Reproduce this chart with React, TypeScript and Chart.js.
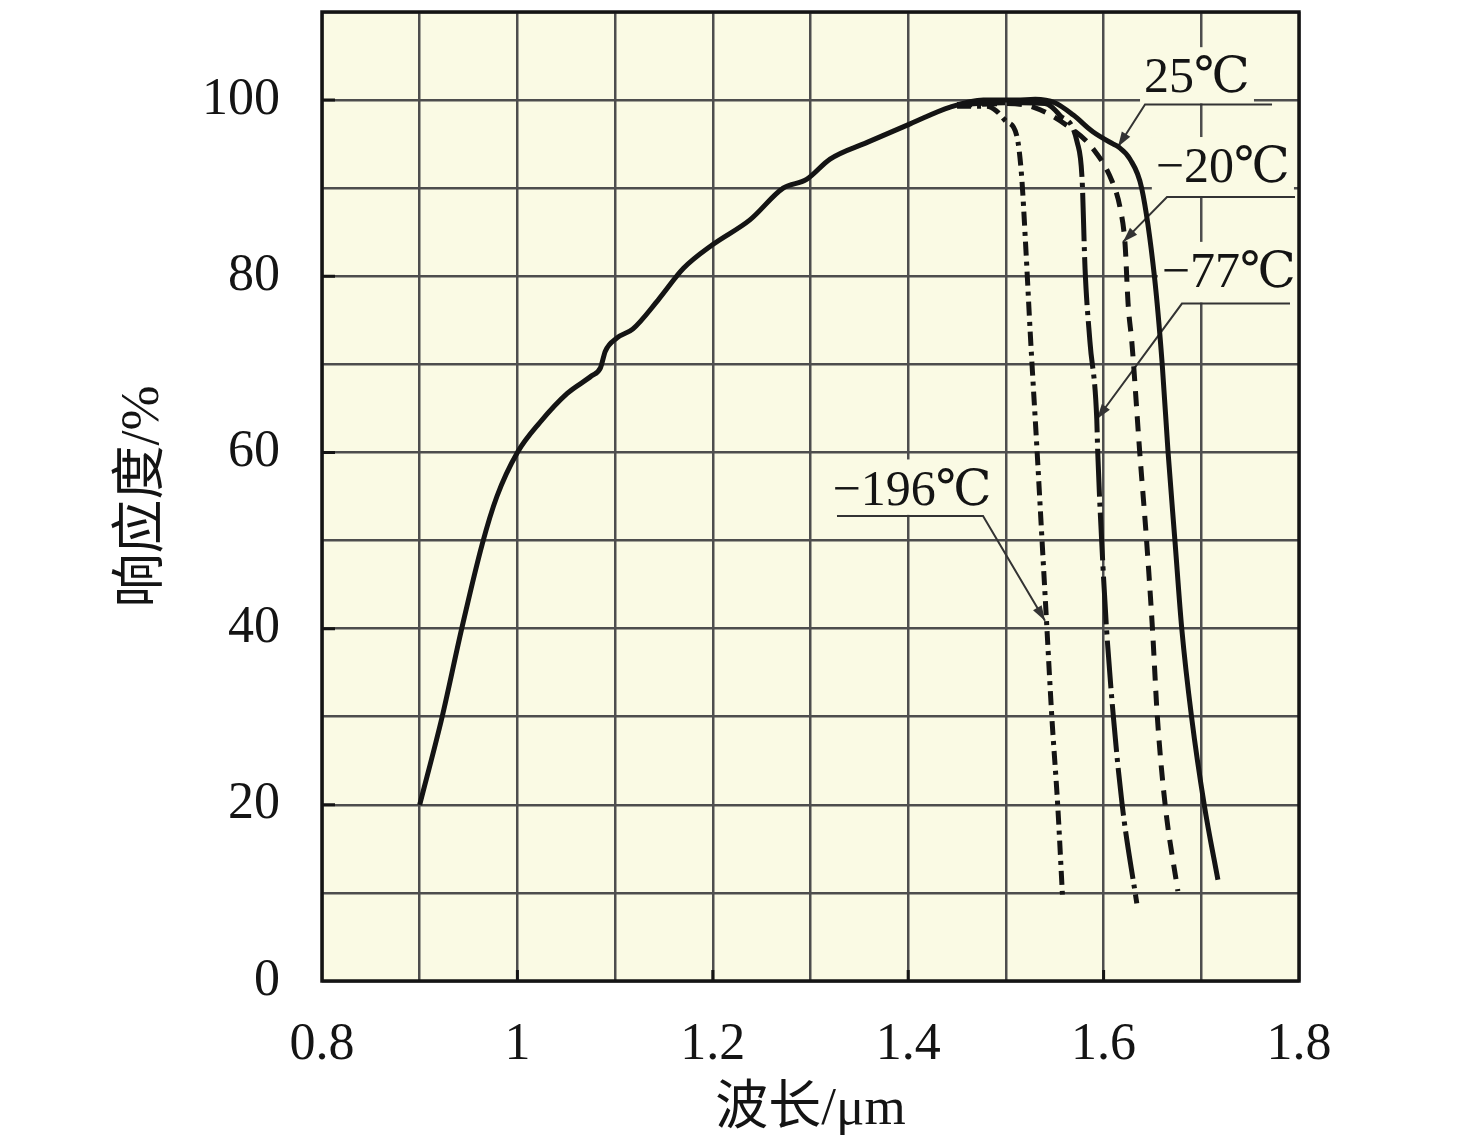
import React, { useEffect, useRef } from 'react';
import { Chart, registerables } from 'chart.js';

Chart.register(...registerables);

// ---- data (wavelength in µm, responsivity in %) ----
const wl25 = [0.9, 0.923, 0.943, 0.964, 0.979, 1.0, 1.023, 1.051, 1.076, 1.085, 1.09, 1.102, 1.118, 1.144, 1.17, 1.2, 1.238, 1.272, 1.296, 1.32, 1.358, 1.402, 1.443, 1.477, 1.511, 1.53, 1.55, 1.569, 1.589, 1.61, 1.615, 1.627, 1.639, 1.652, 1.66, 1.666, 1.673, 1.68, 1.69, 1.703, 1.717];
const resp25 = [20, 30, 40, 49.6, 55, 60, 63.4, 66.7, 68.7, 69.6, 71.5, 73, 74, 77.3, 80.9, 83.6, 86.4, 90, 91, 93.3, 95.2, 97.3, 99.2, 100, 100, 100.1, 99.7, 98.3, 96.4, 95, 94.7, 93.3, 90, 80, 70, 60, 50, 40, 30, 20, 11.5];

const wlM20 = [1.45, 1.5, 1.528, 1.564, 1.589, 1.609, 1.617, 1.622, 1.625, 1.629, 1.637, 1.644, 1.65, 1.655, 1.663, 1.676];
const respM20 = [99.4, 99.6, 99.2, 97, 94.5, 90.7, 87.7, 83.6, 77, 72.4, 60, 50, 40, 30, 20, 10.2];

const wlM77 = [1.45, 1.5, 1.54, 1.555, 1.573, 1.578, 1.581, 1.586, 1.593, 1.594, 1.598, 1.603, 1.61, 1.619, 1.634];
const respM77 = [99.5, 99.7, 99.6, 98.3, 95.2, 91, 80.9, 72.6, 63.8, 60, 50, 40, 30, 20, 8.8];

const wlM196 = [1.45, 1.48, 1.49, 1.5, 1.511, 1.516, 1.52, 1.525, 1.532, 1.537, 1.542, 1.547, 1.553, 1.558];
const respM196 = [99.3, 99.3, 98.8, 97.6, 96, 91.5, 84, 73.4, 60, 50, 40, 30, 20, 9.5];

// ---- axes ----
const xMin = 0.8;
const xMax = 1.8;
const xStep = 0.1;
const yMin = 0;
const yMax = 110;
const yStep = 10;
const xTitle = '波长/μm';
const yTitle = '响应度/%';

// ---- annotations (data units) ----
const annText = ['25℃', '−20℃', '−77℃', '−196℃'];
const annTextX = [1.6956, 1.7221, 1.7282, 1.4039];
const annTextY = [102.6, 92.4, 80.5, 55.8];
const annFarX = [1.7724, 1.7959, 1.7908, 1.3271];
const annElbowX = [1.6424, 1.6649, 1.6802, 1.4766];
const annLineY = [99.5, 89.0, 76.9, 52.8];
const annTipX = [1.6147, 1.6199, 1.5932, 1.54];
const annTipY = [94.7, 83.9, 63.8, 40.9];

const PLOT_BG = '#FAFAE4';
const INK = '#141414';
const GRID = '#4d4d4d';
const SERIF = "'Liberation Serif', 'DejaVu Serif', 'Noto Sans CJK SC', serif";

function toPts(xs: number[], ys: number[]) {
  return xs.map((x, i) => ({ x, y: ys[i] }));
}

const bgPlugin = {
  id: 'plotBg',
  beforeDraw(chart: any) {
    const { ctx, chartArea: a } = chart;
    ctx.save();
    ctx.fillStyle = PLOT_BG;
    ctx.fillRect(a.left, a.top, a.right - a.left, a.bottom - a.top);
    ctx.restore();
  },
};

const annPlugin = {
  id: 'annotations',
  beforeDatasetsDraw(chart: any) {
    const { ctx, scales } = chart;
    const xs = scales.x;
    const ys = scales.y;
    ctx.save();
    ctx.font = `50px ${SERIF}`;
    for (let i = 0; i < annText.length; i++) {
      const cx = xs.getPixelForValue(annTextX[i]);
      const cy = ys.getPixelForValue(annTextY[i]);
      const ly = ys.getPixelForValue(annLineY[i]);
      const fx = xs.getPixelForValue(annFarX[i]);
      const ex = xs.getPixelForValue(annElbowX[i]);
      const tx = xs.getPixelForValue(annTipX[i]);
      const ty = ys.getPixelForValue(annTipY[i]);
      const w = ctx.measureText(annText[i]).width;
      ctx.fillStyle = PLOT_BG;
      ctx.fillRect(cx - w / 2 - 4, cy - 30, w + 8, ly - (cy - 30) - 1);
      ctx.fillStyle = INK;
      ctx.textAlign = 'center';
      ctx.textBaseline = 'middle';
      ctx.fillText(annText[i], cx, cy + 2);
      ctx.strokeStyle = '#333';
      ctx.lineWidth = 2;
      ctx.beginPath();
      ctx.moveTo(fx, ly);
      ctx.lineTo(ex, ly);
      ctx.lineTo(tx, ty);
      ctx.stroke();
      const ang = Math.atan2(ty - ly, tx - ex);
      const L = 15;
      const H = 5;
      ctx.fillStyle = '#333';
      ctx.beginPath();
      ctx.moveTo(tx, ty);
      ctx.lineTo(tx - L * Math.cos(ang) + H * Math.sin(ang), ty - L * Math.sin(ang) - H * Math.cos(ang));
      ctx.lineTo(tx - L * Math.cos(ang) - H * Math.sin(ang), ty - L * Math.sin(ang) + H * Math.cos(ang));
      ctx.closePath();
      ctx.fill();
    }
    ctx.restore();
  },
};

const framePlugin = {
  id: 'frame',
  afterDraw(chart: any) {
    const { ctx, chartArea: a, scales } = chart;
    const xs = scales.x;
    const ys = scales.y;
    ctx.save();
    ctx.strokeStyle = INK;
    ctx.lineWidth = 3;
    ctx.beginPath();
    for (let v = 20; v <= 100; v += 20) {
      const y = ys.getPixelForValue(v);
      ctx.moveTo(a.left, y);
      ctx.lineTo(a.left + 13, y);
    }
    for (let k = 10; k < 18; k += 2) {
      const x = xs.getPixelForValue(k / 10);
      ctx.moveTo(x, a.bottom);
      ctx.lineTo(x, a.bottom - 11);
    }
    ctx.stroke();
    ctx.lineWidth = 3.5;
    ctx.strokeRect(a.left, a.top, a.right - a.left, a.bottom - a.top);
    ctx.restore();
  },
};

export default function App() {
  const ref = useRef<HTMLCanvasElement>(null);
  useEffect(() => {
    const canvas = ref.current;
    if (!canvas) return;
    const common = { borderColor: INK, pointRadius: 0, borderWidth: 5, fill: false, cubicInterpolationMode: 'monotone' as const };
    const chart = new Chart(canvas, {
      type: 'line',
      data: {
        datasets: [
          { ...common, label: '−196℃', data: toPts(wlM196, respM196), borderDash: [14, 6, 4, 6] },
          { ...common, label: '−77℃', data: toPts(wlM77, respM77), borderDash: [48, 6, 4, 6] },
          { ...common, label: '−20℃', data: toPts(wlM20, respM20), borderDash: [15, 10] },
          { ...common, label: '25℃', data: toPts(wl25, resp25) },
        ],
      },
      options: {
        animation: false,
        responsive: true,
        maintainAspectRatio: false,
        layout: { padding: { left: 0, top: 12, right: 177, bottom: 0 } },
        plugins: { legend: { display: false }, tooltip: { enabled: false } },
        scales: {
          x: {
            type: 'linear',
            min: xMin,
            max: xMax,
            afterFit: (s: any) => { s.height = 161; s.paddingLeft = 0; s.paddingRight = 0; },
            ticks: {
              stepSize: xStep,
              autoSkip: false,
              maxRotation: 0,
              padding: 33,
              color: INK,
              font: { family: SERIF, size: 52 },
              callback: (v: any) => {
                const r = Math.round(Number(v) * 10);
                return r % 2 === 0 ? String(r / 10) : '';
              },
            },
            grid: { color: GRID, lineWidth: 2.5, drawTicks: false },
            border: { display: false },
            title: { display: true, text: xTitle, color: INK, font: { family: SERIF, size: 53 }, padding: { top: 0, bottom: 0 } },
          },
          y: {
            type: 'linear',
            min: yMin,
            max: yMax,
            afterFit: (s: any) => { s.width = 322; s.paddingTop = 0; s.paddingBottom = 0; },
            ticks: {
              stepSize: yStep,
              autoSkip: false,
              padding: 42,
              color: INK,
              font: { family: SERIF, size: 52 },
              callback: (v: any) => {
                const n = Math.round(Number(v));
                return n % 20 === 0 && n <= 100 ? String(n) : '';
              },
            },
            grid: { color: GRID, lineWidth: 2.5, drawTicks: false },
            border: { display: false },
            title: { display: true, text: yTitle, color: INK, font: { family: SERIF, size: 54 }, padding: { top: 111, bottom: 0 } },
          },
        },
      },
      plugins: [bgPlugin, annPlugin, framePlugin],
    });
    return () => chart.destroy();
  }, []);
  return (
    <div style={{ position: 'fixed', left: 0, top: 0, width: 1476, height: 1142, background: '#ffffff' }}>
      <canvas ref={ref} />
    </div>
  );
}
